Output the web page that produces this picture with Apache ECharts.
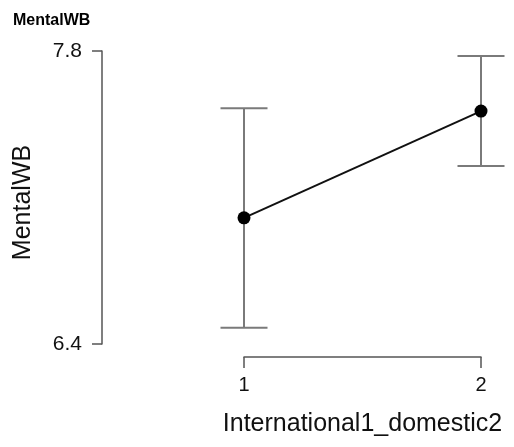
<!DOCTYPE html>
<html>
<head>
<meta charset="utf-8">
<script src="https://cdn.jsdelivr.net/npm/echarts@6/dist/echarts.min.js"></script>
<style>
html,body{margin:0;padding:0;background:#fff;}
#c{width:514px;height:447px;}
</style>
</head>
<body>
<div id="c"></div>
<script>
const categories = [1, 2];
const means = [7.003, 7.513];
const lower = [6.478, 7.251];
const upper = [7.526, 7.776];
const yTicks = [6.4, 7.8];

const chart = echarts.init(document.getElementById('c'), null, {renderer: 'canvas'});
const FONT = '"Liberation Sans", Arial, sans-serif';
const AXIS_COLOR = '#555555';

const errData = categories.map((c, i) => [c, lower[i], upper[i]]);
const lineData = categories.map((c, i) => [c, means[i]]);

chart.setOption({
  animation: false,
  title: {
    text: 'MentalWB',
    left: 8, top: 8,
    textStyle: {fontFamily: FONT, fontSize: 16, fontWeight: 'bold', color: '#000'}
  },
  grid: {left: 244, right: 33, top: 51, bottom: 103, containLabel: false},
  xAxis: {
    type: 'value',
    min: categories[0], max: categories[categories.length - 1], interval: 1,
    offset: 13,
    name: 'International1_domestic2',
    nameLocation: 'middle',
    nameGap: 55,
    nameTextStyle: {fontFamily: FONT, fontSize: 25, color: '#111'},
    axisLine: {show: true, lineStyle: {color: AXIS_COLOR, width: 1.5}},
    axisTick: {show: true, length: 11, inside: false, lineStyle: {color: AXIS_COLOR, width: 1.5}},
    axisLabel: {fontFamily: FONT, fontSize: 20, color: '#111', margin: 18},
    splitLine: {show: false}
  },
  yAxis: {
    type: 'value',
    min: yTicks[0], max: yTicks[1], interval: yTicks[1] - yTicks[0],
    offset: 142,
    name: 'MentalWB',
    nameLocation: 'middle',
    nameGap: 66,
    nameRotate: 90,
    nameTextStyle: {fontFamily: FONT, fontSize: 25, color: '#111', padding: [0, 10, 0, 0]},
    axisLine: {show: true, lineStyle: {color: AXIS_COLOR, width: 1.5}},
    axisTick: {show: true, length: 10, inside: false, lineStyle: {color: AXIS_COLOR, width: 1.5}},
    axisLabel: {fontFamily: FONT, fontSize: 21, color: '#111', margin: 20,
      formatter: v => v.toFixed(1)},
    splitLine: {show: false}
  },
  series: [
    {
      type: 'custom',
      data: errData,
      z: 1,
      renderItem: function (params, api) {
        const x = api.value(0);
        const lo = api.coord([x, api.value(1)]);
        const hi = api.coord([x, api.value(2)]);
        const hw = 23.5;
        const st = {stroke: '#7a7a7a', lineWidth: 2, fill: null};
        return {
          type: 'group',
          children: [
            {type: 'line', shape: {x1: lo[0], y1: lo[1], x2: hi[0], y2: hi[1]}, style: st},
            {type: 'line', shape: {x1: lo[0] - hw, y1: lo[1], x2: lo[0] + hw, y2: lo[1]}, style: st},
            {type: 'line', shape: {x1: hi[0] - hw, y1: hi[1], x2: hi[0] + hw, y2: hi[1]}, style: st}
          ]
        };
      }
    },
    {
      type: 'line',
      data: lineData,
      z: 3,
      symbol: 'circle',
      symbolSize: 13,
      itemStyle: {color: '#000'},
      lineStyle: {color: '#111', width: 2}
    }
  ]
});
</script>
</body>
</html>
